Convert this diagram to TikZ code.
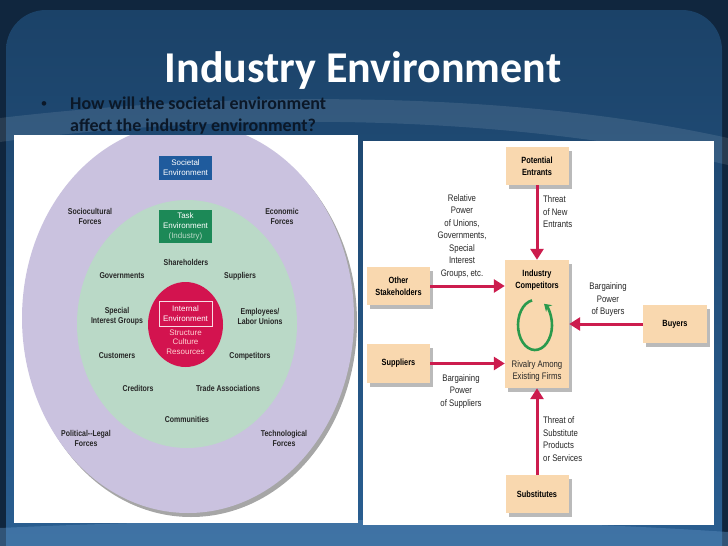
\documentclass[tikz,border=0pt]{standalone}
\usepackage{fontspec}
\setmainfont{Carlito}
\newfontfamily\narrowfont[FakeStretch=0.82]{Liberation Sans}
\newfontfamily\plainfont{Liberation Sans}
\usetikzlibrary{arrows.meta,positioning,shadows,calc}
\definecolor{slidedark}{HTML}{10263E}
\definecolor{slidetop}{HTML}{1B4268}
\definecolor{slidebot}{HTML}{2B6195}
\definecolor{slidelight}{HTML}{5B8DBD}
\definecolor{questionink}{HTML}{0B1828}
\definecolor{societalring}{HTML}{CAC2DF}
\definecolor{taskring}{HTML}{BAD9C7}
\definecolor{internalred}{HTML}{D3134F}
\definecolor{societalblue}{HTML}{1F5B9D}
\definecolor{taskgreen}{HTML}{1C8957}
\definecolor{tanbox}{HTML}{F9D8AF}
\definecolor{forcered}{HTML}{CC1C4E}
\definecolor{rivalgreen}{HTML}{2A9A4C}
\begin{document}
\begin{tikzpicture}[x=1pt,y=-1pt,
			% Define styles for nodes
			every node/.style={inner sep=0pt},
			ring label/.style={font=\narrowfont\bfseries\fontsize{8.5}{10}\selectfont, align=center, text=black!85},
			env box/.style={font=\plainfont\fontsize{8}{10}\selectfont, align=center, text=white, minimum width=53pt},
			force box/.style={fill=tanbox, minimum width=63pt, minimum height=38pt, align=center,
					font=\narrowfont\bfseries\fontsize{9}{12}\selectfont,
					drop shadow={shadow xshift=3pt, shadow yshift=-4pt, opacity=0.45, fill=black!60}},
			force label/.style={font=\narrowfont\fontsize{9.5}{12.5}\selectfont, align=center, text=black!85},
			force/.style={draw=forcered, line width=3pt, -{Triangle[width=13pt,length=11pt]}}
		]
		\useasboundingbox (0,0) rectangle (728,546);

		% Slide background
		\fill[slidedark] (0,0) rectangle (728,546);
		\shade[top color=slidetop, bottom color=slidebot, rounded corners=40pt] (6,10) rectangle (722,600);
		\fill[white, opacity=0.10] (0,118) .. controls (220,92) and (500,88) .. (728,138)
			-- (728,165) .. controls (500,112) and (220,112) .. (0,142) -- cycle;
		\fill[slidelight, opacity=0.45] (0,528) .. controls (260,516) and (520,518) .. (728,532)
			-- (728,546) -- (0,546) -- cycle;

		% Title and question
		\node[anchor=base, text=white, font=\bfseries\fontsize{44}{50}\selectfont] (title) at (363,82) {Industry Environment};
		\node[anchor=base west, text=questionink, font=\bfseries\fontsize{18}{22}\selectfont] (question) at (70,109)
			{How will the societal environment};
		\node[anchor=base west, text=questionink, font=\bfseries\fontsize{18}{22}\selectfont] (question2) at (70,131)
			{affect the industry environment?};
		\node[anchor=base, text=questionink, font=\fontsize{13}{16}\selectfont] (bullet) at (44,107) {\textbullet};

		% Left panel: environments
		\fill[white] (14,135) rectangle (358,523);
		\begin{scope}
			\clip (14,135) rectangle (358,523);
			\fill[black, opacity=0.35] (191,322) ellipse [x radius=166, y radius=195];
			\fill[societalring] (188,318) ellipse [x radius=166, y radius=195];
		\end{scope}
		\fill[taskring] (187,324) ellipse [x radius=110, y radius=124];
		\fill[internalred] (185.5,324.5) ellipse [x radius=37.5, y radius=42.5];

		\node[env box, fill=societalblue, minimum height=24pt] (societal) at (185.5,168) {Societal\\Environment};
		\node[env box, fill=taskgreen, minimum height=33pt] (task) at (185.5,226.5)
			{Task\\Environment\\{\color{taskring}(Industry)}};
		\node[env box, draw=white!85!internalred, line width=0.6pt, minimum height=25pt] (internal) at (185.5,313.5)
			{Internal\\Environment};
		\node[env box, text=pink!70!white, font=\plainfont\fontsize{8}{9.5}\selectfont, below=3pt of internal] (resources)
			{Structure\\Culture\\Resources};

		\node[ring label] (socio) at (90,216) {Sociocultural\\Forces};
		\node[ring label] (econ) at (282,216) {Economic\\Forces};
		\node[ring label] (share) at (186,262) {Shareholders};
		\node[ring label] (gov) at (122,276) {Governments};
		\node[ring label] (supp) at (240,276) {Suppliers};
		\node[ring label] (special) at (117,316) {Special\\Interest Groups};
		\node[ring label] (employ) at (260,316) {Employees/\\Labor Unions};
		\node[ring label] (cust) at (117,356) {Customers};
		\node[ring label] (comp) at (250,356) {Competitors};
		\node[ring label] (cred) at (138,388) {Creditors};
		\node[ring label] (trade) at (228,388) {Trade Associations};
		\node[ring label] (comm) at (187,419) {Communities};
		\node[ring label] (polit) at (86,438) {Political--Legal\\Forces};
		\node[ring label] (tech) at (284,438) {Technological\\Forces};

		% Right panel: forces
		\fill[white] (363,141) rectangle (714,525);

		\node[force box] (entrants) at (537,166) {Potential\\Entrants};
		\node[force box, minimum width=64pt, minimum height=128pt] (industry) at (537,324) {};
		\node[force box] (stake) at (398.5,286) {Other\\Stakeholders};
		\node[force box, minimum width=64pt] (buyers) at (675,324) {Buyers};
		\node[force box, minimum height=39pt] (suppliers) at (398.5,363.5) {Suppliers};
		\node[force box] (substitutes) at (537,494) {Substitutes};

		\node[force label, font=\narrowfont\bfseries\fontsize{9}{12.5}\selectfont, text=black] (competitors) at (537,280) {Industry\\Competitors};
		\node[force label] (rivalry) at (537,371) {Rivalry Among\\Existing Firms};
		\coordinate (loop) at (535,325);
		\draw[rivalgreen, line width=2.6pt, -{Stealth[width=9pt,length=7pt]}]
			($(loop)+(-100:17 and 25)$) arc[start angle=-100, end angle=-418, x radius=17, y radius=25];

		% Arrows
		\draw[force] (entrants) -- (industry);
		\draw[force] (substitutes) -- (industry);
		\draw[force] (stake.east) -- (stake.east -| industry.west);
		\draw[force] (suppliers.east) -- (suppliers.east -| industry.west);
		\draw[force] (buyers.west) -- (buyers.west -| industry.east);

		\node[force label] (relpower) at (462,236.5)
			{Relative\\Power\\of Unions,\\Governments,\\Special\\Interest\\Groups, etc.};
		\node[force label, anchor=west, align=left] (newthreat) at (543,212) {Threat\\of New\\Entrants};
		\node[force label] (buyerpower) at (608,300) {Bargaining\\Power\\of Buyers};
		\node[force label] (supplierpower) at (461,391.5) {Bargaining\\Power\\of Suppliers};
		\node[force label, anchor=west, align=left] (subthreat) at (543,439) {Threat of\\Substitute\\Products\\or Services};
	\end{tikzpicture}
\end{document}
